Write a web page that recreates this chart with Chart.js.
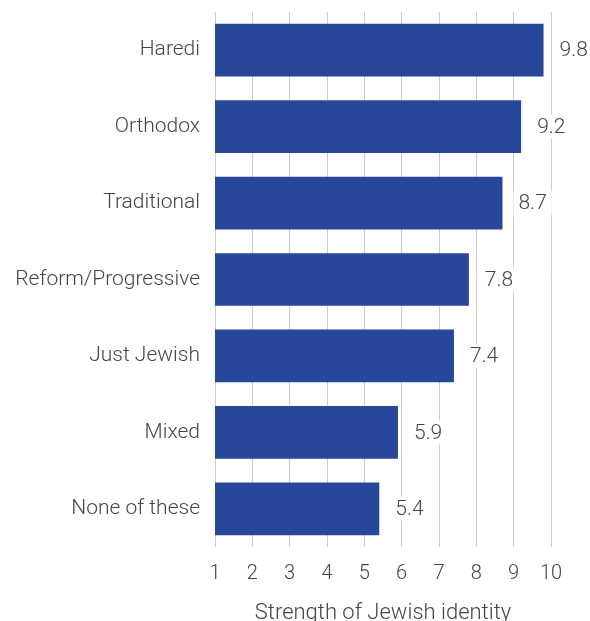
<!DOCTYPE html>
<html>
<head>
<meta charset="utf-8">
<script src="https://cdn.jsdelivr.net/npm/chart.js@4/dist/chart.umd.min.js"></script>
<style>
  html, body { margin: 0; padding: 0; background: #fff; }
  #wrap { width: 590px; height: 621px; }
</style>
</head>
<body>
<div id="wrap"><canvas id="myChart" width="590" height="621"></canvas></div>
<script>
// categories and values
var categories = ["Haredi", "Orthodox", "Traditional", "Reform/Progressive", "Just Jewish", "Mixed", "None of these"];
var identityScores = [9.8, 9.2, 8.7, 7.8, 7.4, 5.9, 5.4];
var tickValues = [1, 2, 3, 4, 5, 6, 7, 8, 9, 10];

var barColor = "#26479a";
var textColor = "#444444";
var fontFamily = "Roboto, 'Liberation Sans', Arial, sans-serif";

// value labels drawn to the right of each bar, on a white box over the grid
var valueLabels = {
  id: "valueLabels",
  afterDatasetsDraw: function(chart) {
    var ctx = chart.ctx;
    var meta = chart.getDatasetMeta(0);
    ctx.save();
    ctx.font = "300 21px " + fontFamily;
    ctx.textBaseline = "middle";
    ctx.textAlign = "left";
    meta.data.forEach(function(bar, i) {
      var txt = identityScores[i].toFixed(1);
      var w = ctx.measureText(txt).width;
      var x = bar.x + 16;
      ctx.fillStyle = "#ffffff";
      ctx.fillRect(x - 5, bar.y - 12, w + 10, 24);
      ctx.fillStyle = textColor;
      ctx.fillText(txt, x, bar.y + 1);
    });
    ctx.restore();
  }
};

new Chart("myChart", {
  type: "bar",
  data: {
    labels: categories,
    datasets: [{
      data: identityScores,
      backgroundColor: barColor,
      barPercentage: 0.69,
      categoryPercentage: 1
    }]
  },
  options: {
    indexAxis: "y",
    responsive: false,
    animation: false,
    layout: { padding: { top: 12, right: 39, bottom: 0, left: 0 } },
    plugins: {
      legend: { display: false },
      tooltip: { enabled: false }
    },
    scales: {
      x: {
        min: 1,
        max: 10,
        afterBuildTicks: function(axis) {
          axis.ticks = tickValues.map(function(v) { return { value: v }; });
        },
        grid: { color: "#cccccc", lineWidth: 1, drawTicks: false },
        border: { display: false },
        ticks: { color: textColor, font: { size: 20, family: fontFamily, weight: 300 }, padding: 15 },
        title: {
          display: true,
          text: "Strength of Jewish identity",
          color: textColor,
          font: { size: 22, family: fontFamily, weight: 300 },
          padding: { top: 6, bottom: -6 }
        },
        afterFit: function(axis) { axis.height = 74; }
      },
      y: {
        grid: { display: false, drawTicks: false },
        border: { display: false },
        ticks: { color: textColor, font: { size: 21, family: fontFamily, weight: 300 }, padding: 15 },
        afterFit: function(axis) {
          axis.width = 215;
          axis.paddingTop = 0;
          axis.paddingBottom = 0;
        }
      }
    }
  },
  plugins: [valueLabels]
});
</script>
</body>
</html>
